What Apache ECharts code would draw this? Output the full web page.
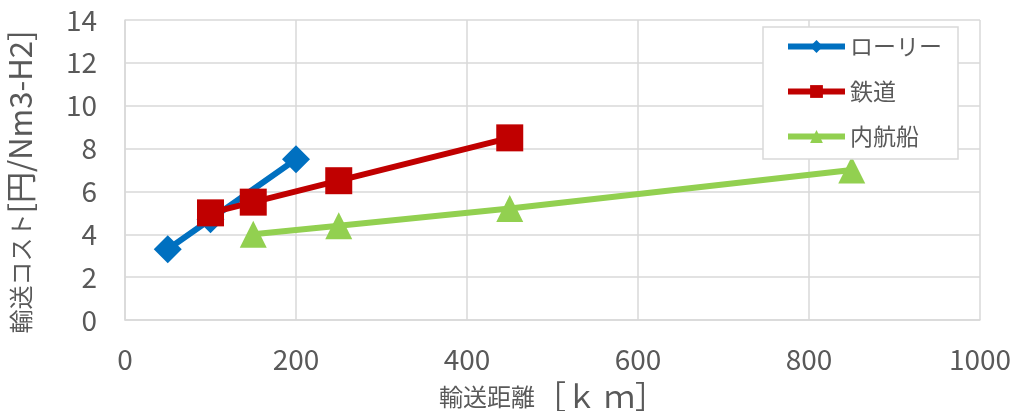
<!DOCTYPE html>
<html>
<head>
<meta charset="utf-8">
<script src="https://cdn.jsdelivr.net/npm/echarts@6/dist/echarts.min.js"></script>
<style>
  html, body { margin: 0; padding: 0; background: #fff; }
  #chart { width: 1018px; height: 411px; }
</style>
</head>
<body>
<div id="chart"></div>
<script>
// 輸送距離 [km] / 輸送コスト [円/Nm3-H2]
var lorry = [[50, 3.3], [100, 4.7], [200, 7.5]]
var rail = [[100, 5.0], [150, 5.5], [250, 6.5], [450, 8.5]]
var ship = [[150, 4.0], [250, 4.4], [450, 5.2], [850, 7.0]]
var seriesNames = ['ローリー', '鉄道', '内航船']

var font = '"Noto Sans CJK JP", "Noto Sans", sans-serif'
var grey = '#595959'
var chart = echarts.init(document.getElementById('chart'))

chart.setOption({
  animation: false,
  textStyle: { fontFamily: font },
  grid: { left: 125, right: 38, top: 20, bottom: 91, outerBoundsMode: 'none', containLabel: false },
  legend: {
    data: seriesNames,
    orient: 'vertical',
    right: 60,
    top: 27,
    padding: [8, 16, 11, 22],
    itemGap: 22,
    itemWidth: 57,
    itemHeight: 16,
    backgroundColor: '#fff',
    borderColor: '#d9d9d9',
    borderWidth: 1.5,
    lineStyle: { width: 6 },
    textStyle: { fontSize: 23, color: grey, fontFamily: font }
  },
  xAxis: {
    type: 'value',
    min: 0,
    max: 1000,
    interval: 200,
    name: '{a|輸送距離}{b|［ｋ ｍ］}',
    nameLocation: 'middle',
    nameGap: 61,
    nameTextStyle: {
      color: grey,
      rich: {
        a: { fontSize: 24, color: grey, fontFamily: font },
        b: { fontSize: 31, color: grey, fontFamily: font }
      }
    },
    axisLine: { show: true, lineStyle: { color: '#d9d9d9', width: 1.5 } },
    axisTick: { show: false },
    axisLabel: {
      fontSize: 28,
      color: grey,
      margin: 25,
      formatter: function (v) { return String(v) }
    },
    splitLine: { lineStyle: { color: '#d9d9d9', width: 1.5 } }
  },
  yAxis: {
    type: 'value',
    min: 0,
    max: 14,
    interval: 2,
    name: '{a|輸送コスト}{b|[円/Nm3-H2]}',
    nameLocation: 'middle',
    nameGap: 89,
    nameTextStyle: {
      color: grey,
      padding: [0, 24, 0, 0],
      rich: {
        a: { fontSize: 24, color: grey, fontFamily: font },
        b: { fontSize: 31, color: grey, fontFamily: font }
      }
    },
    axisLine: { show: true, lineStyle: { color: '#d9d9d9', width: 1.5 } },
    axisTick: { show: false },
    axisLabel: { fontSize: 28, color: grey, margin: 28 },
    splitLine: { lineStyle: { color: '#d9d9d9', width: 1.5 } }
  },
  series: [
    {
      name: seriesNames[0],
      type: 'line',
      data: lorry,
      color: '#0070c0',
      symbol: 'diamond',
      symbolSize: 28,
      lineStyle: { width: 6 }
    },
    {
      name: seriesNames[1],
      type: 'line',
      data: rail,
      color: '#c00000',
      symbol: 'rect',
      symbolSize: 27,
      lineStyle: { width: 6 }
    },
    {
      name: seriesNames[2],
      type: 'line',
      data: ship,
      color: '#92d050',
      symbol: 'triangle',
      symbolSize: 27,
      lineStyle: { width: 6 }
    }
  ]
})
</script>
</body>
</html>
